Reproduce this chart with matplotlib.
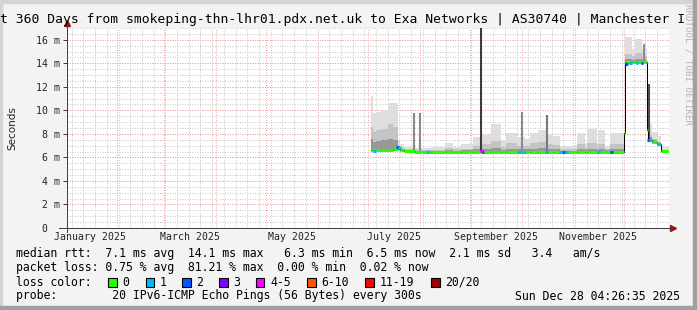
import numpy as np
import pandas as pd
import matplotlib
matplotlib.use("Agg")
import matplotlib.pyplot as plt
from matplotlib.patches import Rectangle

# --- time window (360 days ending at the graph timestamp)
t_start = pd.Timestamp("2025-01-02 04:26:35")
t_end = pd.Timestamp("2025-12-28 04:26:35")

# --- smoke / median segments (value holds until next start)
seg_start = ["2025-07-02 18:00", "2025-07-04", "2025-07-06", "2025-07-09", "2025-07-13",
             "2025-07-16", "2025-07-19", "2025-07-20 12:00", "2025-07-23", "2025-07-29",
             "2025-08-08", "2025-08-16", "2025-08-21", "2025-08-26", "2025-09-02",
             "2025-09-06", "2025-09-13", "2025-09-19", "2025-09-22", "2025-09-28",
             "2025-10-03", "2025-10-06", "2025-10-11", "2025-10-17", "2025-10-20",
             "2025-10-24", "2025-11-03", "2025-11-08", "2025-11-09", "2025-11-15",
             "2025-11-16", "2025-11-20", "2025-11-23", "2025-12-01", "2025-12-01 18:00",
             "2025-12-06", "2025-12-08", "2025-12-12", "2025-12-15", "2025-12-15 18:00",
             "2025-12-18", "2025-12-21", "2025-12-23 12:00"]
median_ms = [6.6, 6.6, 6.6, 6.65, 6.6, 6.7, 6.9, 6.6, 6.55, 6.5,
             6.5, 6.5, 6.5, 6.5, 6.5, 6.45, 6.5, 6.5, 6.45, 6.5,
             6.5, 6.5, 6.5, 6.5, 6.5, 6.45, 6.5, 6.5, 6.5, 6.45,
             6.5, 6.5, 6.5, 8.1, 14.1, 14.1, 14.1, 14.1, 8.3, 7.5,
             7.3, 7.15, 6.55]
smoke_hi = [11.2, 9.8, 9.9, 10.0, 10.6, 10.6, 7.4, 7.1, 6.9, 6.8,
            6.9, 7.2, 6.9, 7.1, 7.7, 7.9, 8.8, 7.5, 8.1, 7.7,
            7.6, 8.1, 8.3, 8.0, 7.8, 7.0, 8.1, 7.2, 8.4, 7.2,
            8.3, 7.0, 8.1, 8.1, 16.2, 15.2, 16.1, 15.2, 8.3, 8.8,
            8.2, 7.8, 6.9]
smoke_mid = [8.6, 8.2, 8.3, 8.4, 8.8, 8.6, 7.0, 6.85, 6.7, 6.65,
             6.65, 6.8, 6.7, 6.75, 7.0, 7.15, 7.4, 6.9, 7.2, 7.0,
             7.0, 7.2, 7.3, 7.15, 7.05, 6.7, 7.1, 6.8, 7.2, 6.8,
             7.1, 6.7, 7.1, 8.1, 14.8, 14.6, 14.9, 14.6, 8.3, 7.9,
             7.6, 7.35, 6.65]
smoke_dark = [7.6, 7.3, 7.4, 7.5, 7.6, 7.5, 6.95, 6.7, 6.6, 6.55,
              6.55, 6.6, 6.55, 6.6, 6.7, 6.75, 6.8, 6.65, 6.75, 6.7,
              6.7, 6.75, 6.8, 6.7, 6.7, 6.55, 6.7, 6.6, 6.75, 6.6,
              6.75, 6.6, 6.7, 8.1, 14.35, 14.3, 14.4, 14.3, 8.3, 7.7,
              7.45, 7.25, 6.6]

# --- single tall smoke spikes
spike_dates = ["2025-07-28 12:00", "2025-08-01", "2025-09-07", "2025-10-01",
               "2025-10-16", "2025-12-13", "2025-12-16 12:00"]
spike_base = [6.5, 6.5, 6.5, 6.5, 6.5, 14.1, 7.5]
spike_top = [9.8, 9.8, 17.5, 9.9, 9.6, 15.6, 12.2]
spike_shade = ["#8a8a8a", "#8a8a8a", "#3c3c3c", "#8a8a8a", "#7a7a7a", "#8a8a8a", "#505050"]

# --- median points with packet loss
blip_dates = ["2025-07-05", "2025-07-19", "2025-07-20", "2025-08-06", "2025-09-07",
              "2025-09-08", "2025-09-30", "2025-10-02", "2025-10-16", "2025-10-24",
              "2025-10-26", "2025-10-28", "2025-11-16", "2025-11-24", "2025-12-03",
              "2025-12-05", "2025-12-09", "2025-12-12", "2025-12-16", "2025-12-17",
              "2025-12-22"]
blip_ms = [6.55, 6.9, 6.8, 6.5, 6.55, 6.5, 6.5, 6.5, 6.5, 6.45,
           6.45, 6.45, 6.5, 6.5, 13.9, 14.0, 14.0, 14.05, 7.5, 7.45, 7.15]
blip_loss = ["1", "2", "1", "1", "4-5", "2", "1", "1", "1", "1",
             "2", "1", "1", "2", "2", "1", "1", "2", "2", "1", "1"]

loss_labels = ["0", "1", "2", "3", "4-5", "6-10", "11-19", "20/20"]
loss_colors = ["#26ff00", "#00b8ff", "#0059ff", "#7e00ff", "#ff00ff", "#ff5500", "#ff0000", "#a10000"]

# --- axis labels
y_ticks = [0, 2, 4, 6, 8, 10, 12, 14, 16]
y_labels = ["0  ", "2 m", "4 m", "6 m", "8 m", "10 m", "12 m", "14 m", "16 m"]
x_label_dates = ["2025-01-16", "2025-03-16 12:00", "2025-05-16 12:00",
                 "2025-07-16 12:00", "2025-09-16", "2025-11-16"]
x_labels = ["January 2025", "March 2025", "May 2025", "July 2025", "September 2025", "November 2025"]


def to_dt(lst):
    return pd.to_datetime(lst, format="ISO8601")


mono = "DejaVu Sans Mono"
W, H = 697, 310
fig = plt.figure(figsize=(W / 100, H / 100), dpi=100, facecolor="#f3f3f3")

# 3d frame
fig.patches.append(Rectangle((0, 1 - 3 / H), 1, 3 / H, transform=fig.transFigure, color="#d4d4d4", zorder=0))
fig.patches.append(Rectangle((0, 0), 2 / W, 1, transform=fig.transFigure, color="#d4d4d4", zorder=0))
fig.patches.append(Rectangle((1 - 4 / W, 0), 4 / W, 1, transform=fig.transFigure, color="#a0a0a0", zorder=0))
fig.patches.append(Rectangle((0, 0), 1, 4 / H, transform=fig.transFigure, color="#a0a0a0", zorder=0))

ax = fig.add_axes([67 / W, 82 / H, 602 / W, 200 / H])
ax.set_facecolor("white")
ax.set_xlim(t_start, t_end)
ax.set_ylim(0, 17)

# grid (dotted, like rrdtool)
px = 0.72
gkw = dict(lw=px, ls=(0, (1, 1.5)))
for d in pd.date_range("2025-01-05", t_end, freq="7D"):
    ax.axvline(d, color="#c8c8c8", zorder=1, **gkw)
for v in np.arange(0.5, 17.01, 0.5):
    ax.axhline(v, color="#c8c8c8", zorder=1, **gkw)
for d in pd.date_range("2025-02-01", t_end, freq="MS"):
    ax.axvline(d, color="#f2a4a4", zorder=1.2, **gkw)
for v in y_ticks[1:]:
    ax.axhline(v, color="#f2a4a4", zorder=1.2, **gkw)

# smoke
xs = to_dt(seg_start + [t_end.isoformat()])


def ext(a):
    return list(a) + [a[-1]]


ax.fill_between(xs, ext(median_ms), ext(smoke_hi), step="post", color="#dedede", lw=0, zorder=2)
ax.fill_between(xs, ext(median_ms), ext(smoke_mid), step="post", color="#c4c4c4", lw=0, zorder=2.1)
ax.fill_between(xs, ext(median_ms), ext(smoke_dark), step="post", color="#989898", lw=0, zorder=2.2)

ax.vlines(to_dt(spike_dates), spike_base, spike_top, colors=spike_shade, lw=1.5, zorder=2.5)

# median line
ax.step(xs, ext(median_ms), where="post", color="black", lw=px, zorder=3)
ax.hlines(median_ms, xs[:-1], xs[1:], colors=loss_colors[0], lw=2.2, zorder=3.5)
color_of = dict(zip(loss_labels, loss_colors))
bd = to_dt(blip_dates)
ax.hlines(blip_ms, bd - pd.Timedelta(hours=20), bd + pd.Timedelta(hours=20),
          colors=[color_of[l] for l in blip_loss], lw=2.2, zorder=3.6)

# axes decoration
for s in ax.spines.values():
    s.set_visible(False)
ax.plot([-8 / 602, 1.005], [0, 0], transform=ax.transAxes, color="#404040", lw=px, clip_on=False, zorder=5)
ax.plot([0, 0], [-4 / 200, 1.02], transform=ax.transAxes, color="#404040", lw=px, clip_on=False, zorder=5)
ax.plot([1.007], [0], transform=ax.transAxes, marker=">", ms=4, color="#8b1a1a", clip_on=False, zorder=6)
ax.plot([0], [1.025], transform=ax.transAxes, marker="^", ms=4, color="#8b1a1a", clip_on=False, zorder=6)

ax.set_yticks(y_ticks, y_labels, family=mono, fontsize=7.1, color="#222222")
ax.tick_params(axis="y", length=3, width=px, color="#404040", pad=2)
ax.set_xticks(to_dt(x_label_dates), x_labels, family=mono, fontsize=7.1, color="#222222")
ax.tick_params(axis="x", length=0, pad=3)
ax.set_ylabel("Seconds", fontsize=7.5, color="#222222")
ax.yaxis.set_label_coords(-50 / 602, 0.5)

# title (clipped by canvas)
fig.text(0.5 / W, 1 - 19 / H, "t 360 Days from smokeping-thn-lhr01.pdx.net.uk to Exa Networks | AS30740 | Manchester I",
         family=mono, fontsize=9.35, ha="left", va="center", color="black")
fig.text(688 / W, 1 - 4 / H, "RRDTOOL / TOBI OETIKER", rotation=270, family=mono, fontsize=6.6,
         ha="center", va="top", color="#b4b4b4")

# legend rows
lx = 16 / W
fs = 8.3
rows = ["median rtt:  7.1 ms avg  14.1 ms max   6.3 ms min  6.5 ms now  2.1 ms sd   3.4   am/s",
        "packet loss: 0.75 % avg  81.21 % max  0.00 % min  0.02 % now"]
for i, r in enumerate(rows):
    fig.text(lx, 1 - (254 + 14 * i) / H, r, family=mono, fontsize=fs, va="center", color="black")
fig.text(lx, 1 - 282 / H, "loss color:", family=mono, fontsize=fs, va="center", color="black")
box_x = [108, 145.5, 182, 219, 255.5, 307, 365, 431]
for bx, lab, c in zip(box_x, loss_labels, loss_colors):
    fig.patches.append(Rectangle((bx / W, 1 - 286.5 / H), 8.5 / W, 9 / H, transform=fig.transFigure,
                                 facecolor=c, edgecolor="black", lw=0.8, zorder=3))
    fig.text((bx + 14.5) / W, 1 - 282 / H, lab, family=mono, fontsize=fs, va="center", color="black")
fig.text(lx, 1 - 296 / H, "probe:        20 IPv6-ICMP Echo Pings (56 Bytes) every 300s",
         family=mono, fontsize=fs, va="center", color="black")
fig.text(680 / W, 1 - 296 / H, "Sun Dec 28 04:26:35 2025", family=mono, fontsize=fs,
         va="center", ha="right", color="black")

fig.savefig("out.png", dpi=100, facecolor=fig.get_facecolor())
